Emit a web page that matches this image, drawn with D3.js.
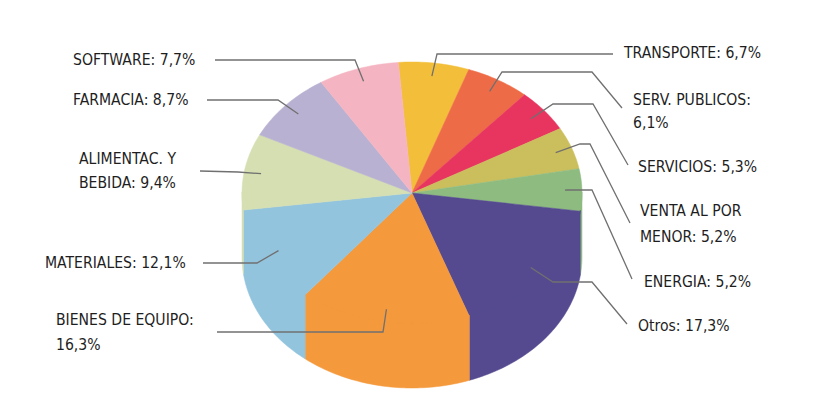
<!DOCTYPE html>
<html><head><meta charset="utf-8">
<script src="https://cdn.jsdelivr.net/npm/d3@7"></script>
<style>
html,body{margin:0;padding:0;background:#fff;}
svg{display:block;}
text{font-family:"DejaVu Sans Condensed","DejaVu Sans",sans-serif;font-stretch:condensed;font-size:15.6px;fill:#1e1e1e;}
</style></head>
<body>
<svg id="c" width="825" height="397"></svg>
<script>
// ---- data ----
const categories = ["TRANSPORTE","SERV. PUBLICOS","SERVICIOS","VENTA AL POR MENOR","ENERGIA","Otros","BIENES DE EQUIPO","MATERIALES","ALIMENTAC. Y BEBIDA","FARMACIA","SOFTWARE"];
const values = [6.7, 6.1, 5.3, 5.2, 5.2, 17.3, 16.3, 12.1, 9.4, 8.7, 7.7];
const labelLines = [
  ["TRANSPORTE: 6,7%"],
  ["SERV. PUBLICOS:", "6,1%"],
  ["SERVICIOS: 5,3%"],
  ["VENTA AL POR", "MENOR: 5,2%"],
  ["ENERGIA: 5,2%"],
  ["Otros: 17,3%"],
  ["BIENES DE EQUIPO:", "16,3%"],
  ["MATERIALES: 12,1%"],
  ["ALIMENTAC. Y", "BEBIDA: 9,4%"],
  ["FARMACIA: 8,7%"],
  ["SOFTWARE: 7,7%"]
];
const colors = ["#F3BE3A","#EE6B47","#E7355F","#CABF5C","#8EBB80","#554A8F","#F4993C","#93C4DE","#D5DFB2","#B9B1D1","#F4B4C1"];

// ---- layout (positions only) ----
const layout = [
  {x:624, y:[58],       path:[[613,54],[437,54]]},
  {x:633, y:[105,128],  path:[[622,108],[592,72],[502,72]]},
  {x:638, y:[172],      path:[[628,165],[593,104],[553,104]]},
  {x:640, y:[216,242],  path:[[630,223],[590,144],[580,144]]},
  {x:644, y:[287],      path:[[632,279],[592,190],[567,190]]},
  {x:638, y:[331],      path:[[627,324],[592,282],[553,282]]},
  {x:56,  y:[325,350],  path:[[217,332],[383,332]]},
  {x:45,  y:[268],      path:[[203,263],[257,263]]},
  {x:79,  y:[164,188],  path:[[200,171],[238,172]]},
  {x:73,  y:[105],      path:[[207,100],[278,100]]},
  {x:73,  y:[65],       path:[[215,60],[355,60]]}
];

const cx = 412, cy = 193, rx = 170, ry = 131, depth = 64;
const startA = -4.6 * Math.PI / 180;
const xs = d3.scaleLinear().domain([-1, 1]).range([cx - rx, cx + rx]);
const ys = d3.scaleLinear().domain([-1, 1]).range([cy - ry, cy + ry]);

const svg = d3.select("#c");
const pie = d3.pie().sort(null).value(d => d).startAngle(startA).endAngle(startA + 2 * Math.PI);
const arcs = pie(values);

function pt(a, r, dy) { return [xs(r * Math.sin(a)), ys(-r * Math.cos(a)) + (dy || 0)]; }
function arcPts(a0, a1, dy) {
  const n = Math.max(2, Math.ceil((a1 - a0) / 0.02));
  return d3.range(n + 1).map(i => pt(a0 + (a1 - a0) * i / n, 1, dy));
}
const line = d3.line();

// slices: top face + front wall in one path, same winding (no seam)
const gSl = svg.append("g");
arcs.forEach((d, i) => {
  let dStr = line([[cx, cy]].concat(arcPts(d.startAngle, d.endAngle, 0))) + "Z";
  const a0 = Math.max(d.startAngle, Math.PI / 2), a1 = Math.min(d.endAngle, 3 * Math.PI / 2);
  if (a1 > a0) {
    const bot = arcPts(a0, a1, depth), top = arcPts(a0, a1, -1).reverse();
    dStr += line(bot.concat(top)) + "Z";
  }
  gSl.append("path").attr("d", dStr).attr("fill-rule", "nonzero")
    .attr("fill", colors[i]).attr("stroke", colors[i]).attr("stroke-width", 0.5);
});

// leader lines
const gLead = svg.append("g");
arcs.forEach((d, i) => {
  const mid = (d.startAngle + d.endAngle) / 2;
  const pts = layout[i].path.concat([pt(mid, 0.9, 0)]);
  gLead.append("path").attr("d", line(pts)).attr("fill", "none")
    .attr("stroke", "#707070").attr("stroke-width", 1.3);
});

// labels
const gLab = svg.append("g");
labelLines.forEach((ls, i) => {
  ls.forEach((t, j) => {
    gLab.append("text").attr("x", layout[i].x).attr("y", layout[i].y[j]).text(t);
  });
});
</script>
</body></html>
